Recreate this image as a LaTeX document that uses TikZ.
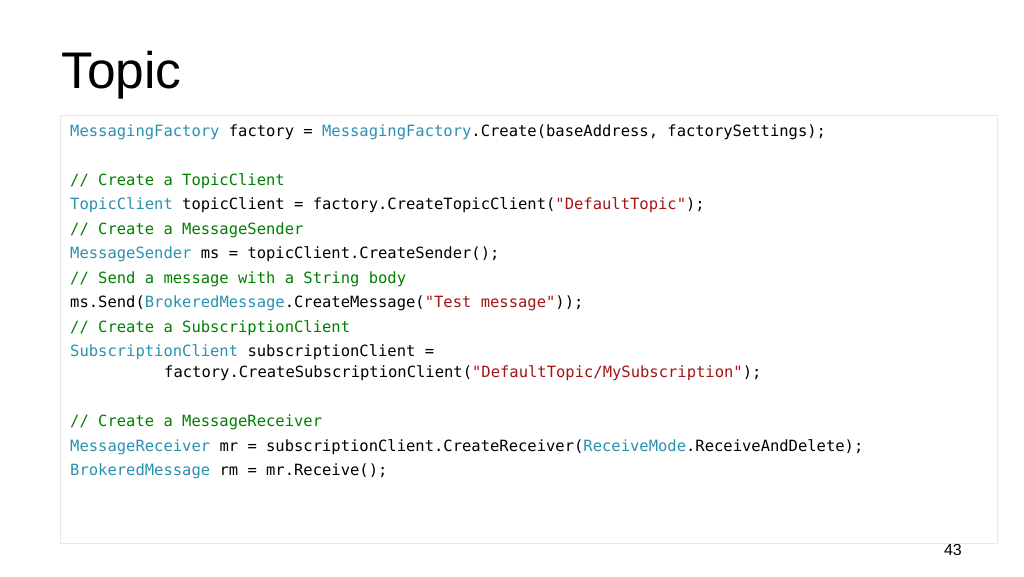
\documentclass[tikz,border=0pt]{standalone}
\usepackage{fontspec}
\setmainfont{Liberation Sans}
\newfontfamily\codefont{DejaVu Sans Mono}
\definecolor{typec}{HTML}{2B91AF}
\definecolor{cmtc}{HTML}{008000}
\definecolor{strc}{HTML}{A31515}
\definecolor{boxc}{HTML}{E8E8E8}
\newcommand{\ty}[1]{\textcolor{typec}{#1}}
\newcommand{\cm}[1]{\textcolor{cmtc}{#1}}
\newcommand{\st}[1]{\textcolor{strc}{#1}}
\frenchspacing
\begin{document}
\begin{tikzpicture}[x=1pt,y=1pt,
  codeline/.style={anchor=base west,inner sep=0pt,font=\codefont\fontsize{15.5pt}{19pt}\selectfont},
  titlestyle/.style={anchor=base west,inner sep=0pt,font=\fontsize{51.5pt}{60pt}\selectfont},
  pagenum/.style={anchor=base east,inner sep=0pt,font=\fontsize{16pt}{19pt}\selectfont},
  codebox/.style={draw=boxc,line width=0.8pt,fill=white,inner sep=0pt,anchor=north west}]
\useasboundingbox (0,0) rectangle (1024,-576);
\fill[white] (0,0) rectangle (1024,-576);
\node[titlestyle] (title) at (61,-88.7) {Topic};
\node[codebox,minimum width=937pt,minimum height=428pt] (box) at (60,-115) {};
\node[codeline] (l1) at (70,-136.3) {\ty{MessagingFactory} factory = \ty{MessagingFactory}.Create(baseAddress, factorySettings);};
\node[codeline] (l2) at (70,-185.3) {\cm{// Create a TopicClient}};
\node[codeline] (l3) at (70,-209.8) {\ty{TopicClient} topicClient = factory.CreateTopicClient(\st{"DefaultTopic"});};
\node[codeline] (l4) at (70,-234.3) {\cm{// Create a MessageSender}};
\node[codeline] (l5) at (70,-258.8) {\ty{MessageSender} ms = topicClient.CreateSender();};
\node[codeline] (l6) at (70,-283.3) {\cm{// Send a message with a String body}};
\node[codeline] (l7) at (70,-307.8) {ms.Send(\ty{BrokeredMessage}.CreateMessage(\st{"Test message"}));};
\node[codeline] (l8) at (70,-332.3) {\cm{// Create a SubscriptionClient}};
\node[codeline] (l9) at (70,-356.8) {\ty{SubscriptionClient} subscriptionClient =};
\node[codeline] (l10) at (164,-377.2) {factory.CreateSubscriptionClient(\st{"DefaultTopic/MySubscription"});};
\node[codeline] (l11) at (70,-426.7) {\cm{// Create a MessageReceiver}};
\node[codeline] (l12) at (70,-451.2) {\ty{MessageReceiver} mr = subscriptionClient.CreateReceiver(\ty{ReceiveMode}.ReceiveAndDelete);};
\node[codeline] (l13) at (70,-475.7) {\ty{BrokeredMessage} rm = mr.Receive();};
\node[pagenum] (pg) at (962,-555) {43};
\end{tikzpicture}
\end{document}
